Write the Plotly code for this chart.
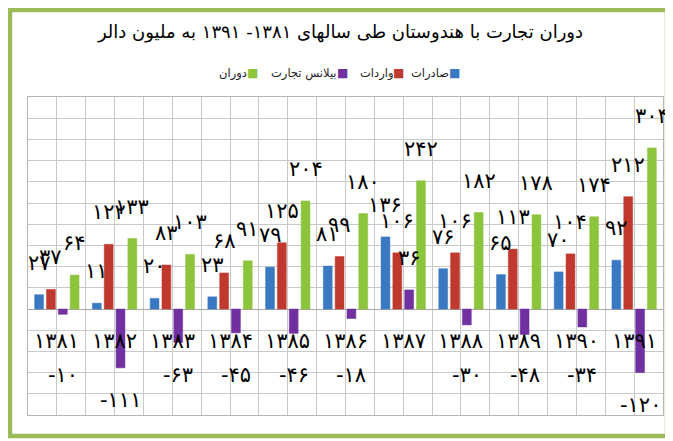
import plotly.graph_objects as go

years = ["1381", "1382", "1383", "1384", "1385", "1386", "1387", "1388", "1389", "1390", "1391"]
exports = [27, 11, 20, 23, 79, 81, 136, 76, 65, 70, 92]
imports = [37, 122, 83, 68, 125, 99, 106, 106, 113, 104, 212]
balance = [-10, -111, -63, -45, -46, -18, 36, -30, -48, -34, -120]
turnover = [64, 133, 103, 91, 204, 180, 242, 182, 178, 174, 304]

names = ["صادرات", "واردات", "بیلانس تجارت", "دوران"]
colors = ["#3a78c2", "#c0392f", "#7030a0", "#8cc43c"]
title = "دوران تجارت با هندوستان طی سالهای ۱۳۸۱- ۱۳۹۱ به ملیون دالر"

# page body has an 8px margin: figure sits at (8, 8) in the window
OFF = 8
W, H = 673 - OFF, 441 - OFF
# plot area in window pixels: x 28..663, y 97..415
ML, MR, MT, MB = 28 - OFF, W - (663 - OFF), 97 - OFF, H - (415 - OFF)
pw, ph = W - ML - MR, H - MT - MB
BARGAP, GROUPGAP = 0.18, 0.25


def px_x(wx):
    return (wx - OFF - ML) / pw


def px_y(wy):
    return (H - MB - (wy - OFF)) / ph


fa = str.maketrans("0123456789", "۰۱۲۳۴۵۶۷۸۹")


def fa_num(v):
    return str(v).translate(fa)


xs = list(range(len(years)))
series = [exports, imports, balance, turnover]

fig = go.Figure()
for name, col, vals in zip(names, colors, series):
    fig.add_trace(go.Bar(x=xs, y=vals, name=name,
                         marker=dict(color=col, line=dict(color=col, width=0.5)),
                         showlegend=False, hoverinfo="y"))

LABEL_FONT = dict(size=21, color="black", family="DejaVu Sans")
n = len(series)
slot = (1 - BARGAP) / n
ann = []
for k, vals in enumerate(series):
    off = -(1 - BARGAP) / 2 + slot * (k + 0.5)
    for i, v in enumerate(vals):
        if v >= 0:
            ann.append(dict(x=xs[i] + off, y=v, yshift=32, text=fa_num(v), showarrow=False,
                            font=LABEL_FONT, yanchor="middle"))
        else:
            ann.append(dict(x=xs[i] + off, y=min(v, -65), yshift=-32, text=fa_num(v), showarrow=False,
                            font=LABEL_FONT, yanchor="middle"))
for i, yv in enumerate(years):
    ann.append(dict(x=xs[i], y=-60, text=fa_num(yv), showarrow=False,
                    font=LABEL_FONT, yanchor="middle"))

# legend, right-to-left, with the colour box on the right of each name
leg_box_right = [462, 406, 350, 260]   # window px, right edge of each box
for nm, c, bx in zip(names, colors, leg_box_right):
    ann.append(dict(xref="paper", yref="paper", x=px_x(bx), y=px_y(73), text="■",
                    showarrow=False, xanchor="right", yanchor="middle",
                    font=dict(size=12, color=c, family="DejaVu Sans")))
    ann.append(dict(xref="paper", yref="paper", x=px_x(bx - 11), y=px_y(73), text=nm,
                    showarrow=False, xanchor="right", yanchor="middle",
                    font=dict(size=11.5, color="#222", family="DejaVu Sans")))

shapes = [dict(type="rect", xref="paper", yref="paper",
               x0=px_x(10), x1=px_x(667), y0=px_y(436), y1=px_y(10),
               line=dict(color="#9bbb59", width=4.5), fillcolor="rgba(0,0,0,0)", layer="below")]

fig.update_layout(
    width=W, height=H,
    margin=dict(l=ML, r=MR, t=MT, b=MB),
    paper_bgcolor="white", plot_bgcolor="white",
    barmode="group", bargap=BARGAP, bargroupgap=GROUPGAP,
    title=dict(text=title, x=0.5, xanchor="center", y=1 - (32 - OFF) / H, yanchor="middle",
               font=dict(size=18, color="black", family="DejaVu Sans")),
    annotations=ann, shapes=shapes,
    xaxis=dict(range=[-0.5, len(years) - 0.5],
               tickvals=[j / 2 - 0.5 for j in range(2 * len(years) + 1)],
               showticklabels=False, showgrid=True, gridcolor="#c9c9c9", gridwidth=1,
               showline=True, linecolor="#b5b5b5", mirror=True, zeroline=False, fixedrange=True),
    yaxis=dict(range=[-200, 400], dtick=40, showticklabels=False, showgrid=True, gridcolor="#c9c9c9",
               gridwidth=1, zeroline=True, zerolinecolor="#a6a6a6", zerolinewidth=1,
               showline=True, linecolor="#b5b5b5", mirror=True, fixedrange=True),
)

fig.write_html("out.html")
